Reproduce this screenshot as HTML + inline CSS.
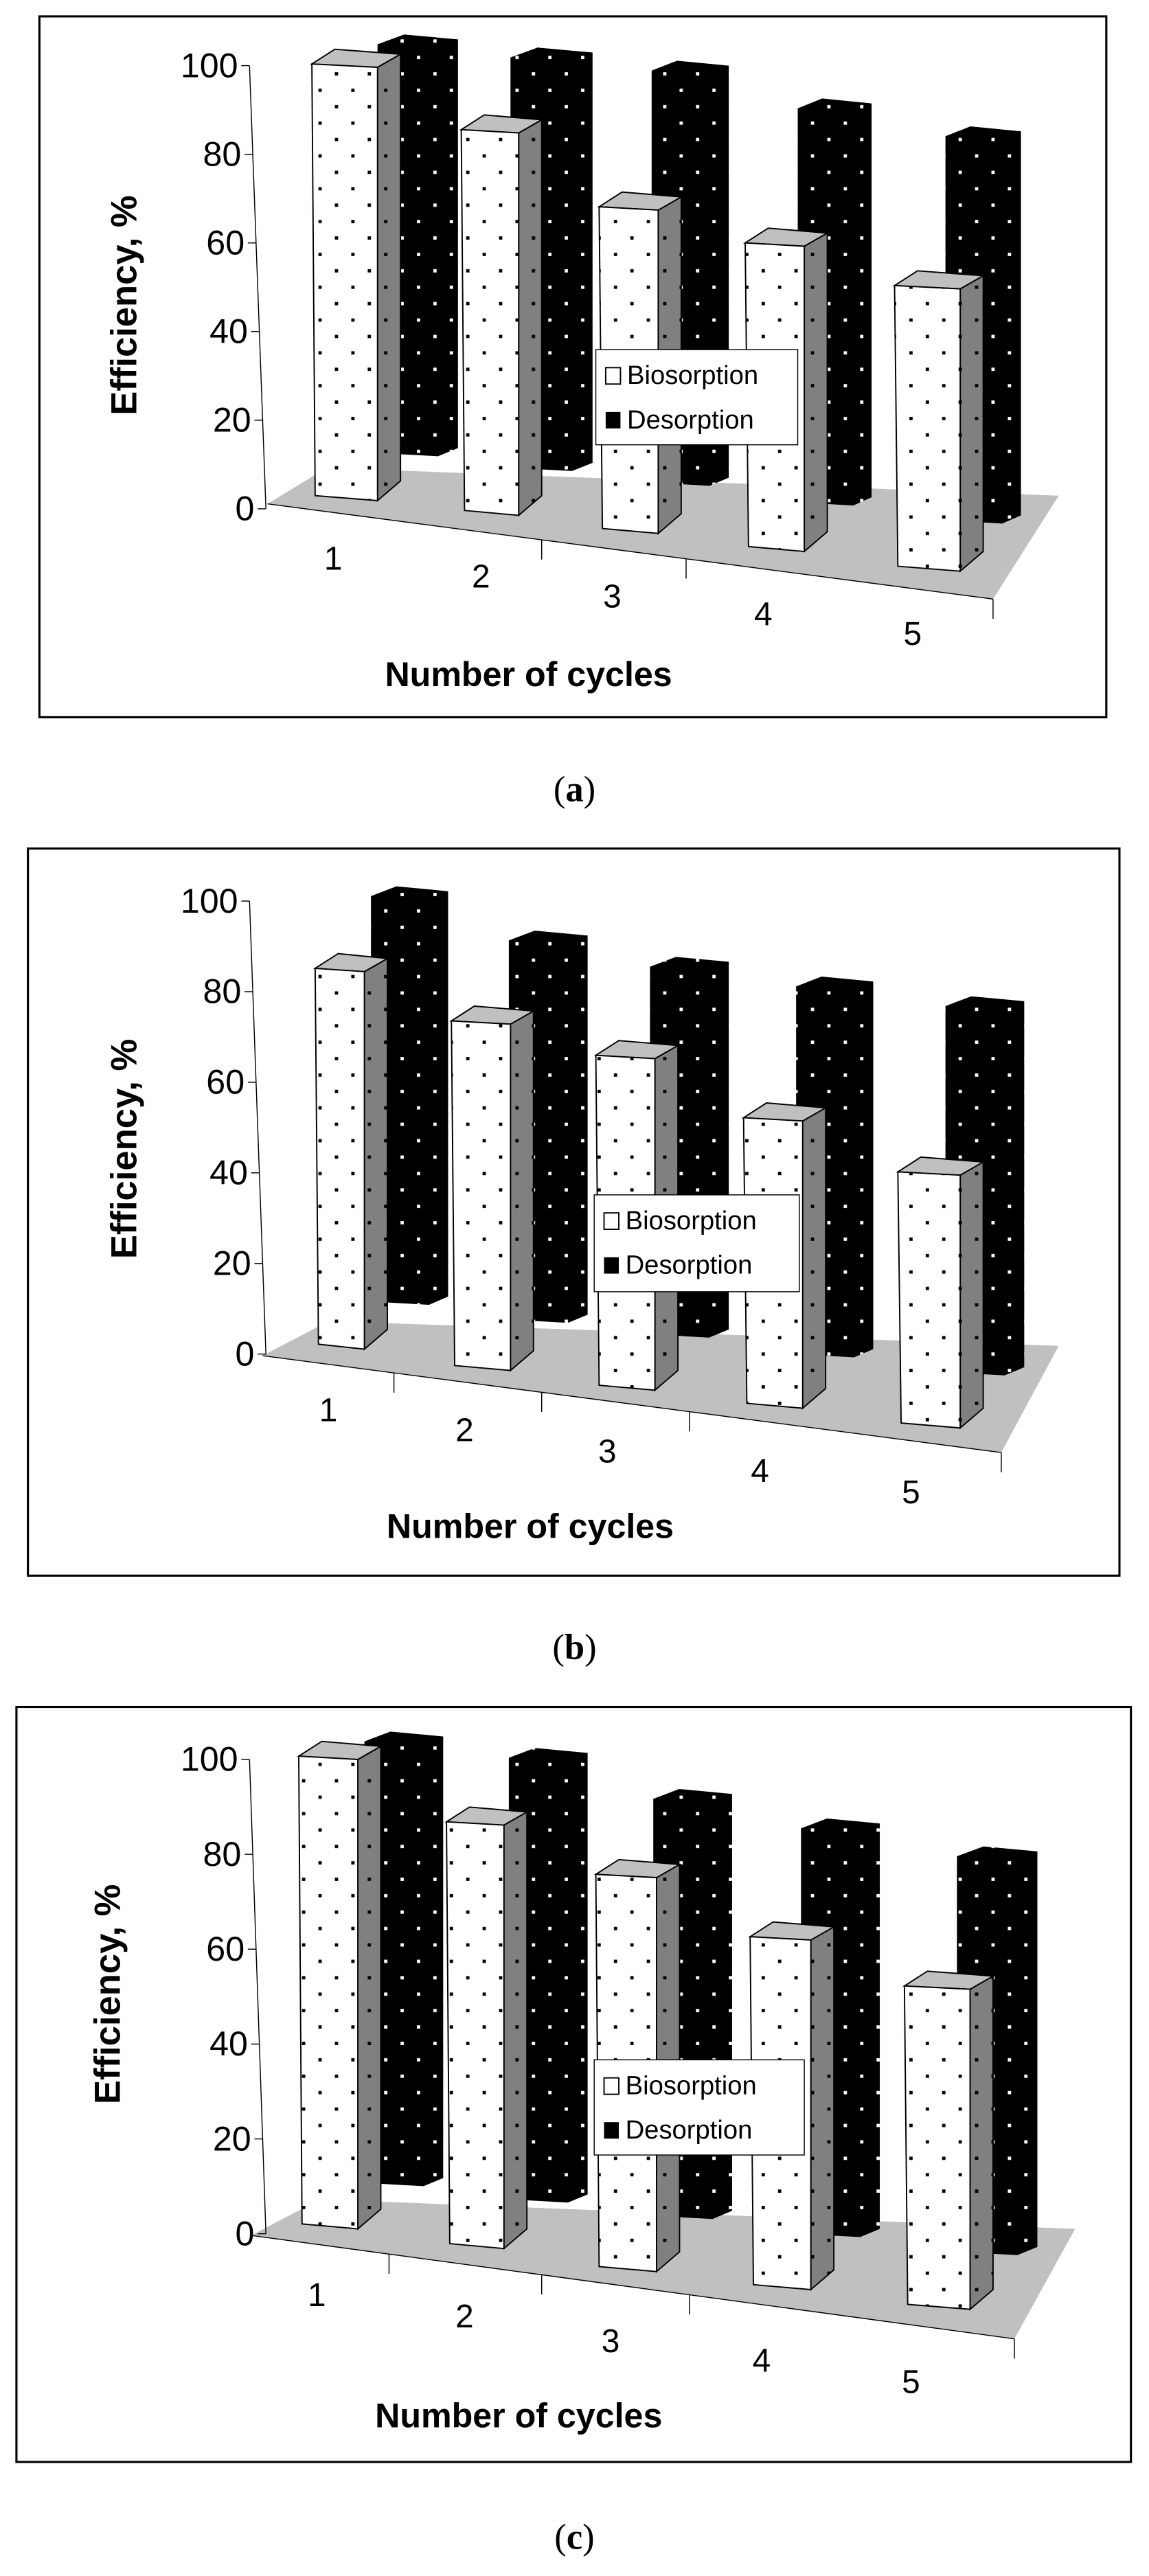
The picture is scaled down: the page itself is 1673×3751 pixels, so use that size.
<!DOCTYPE html>
<html><head><meta charset="utf-8"><style>html,body{margin:0;padding:0;background:#fff}svg{display:block}</style></head>
<body>
<svg id="s" width="1673" height="3751" viewBox="0 0 700 1569.5" xmlns="http://www.w3.org/2000/svg" font-family="Liberation Sans, Arial, sans-serif">
<defs>
<pattern id="pw" width="20" height="20" patternUnits="userSpaceOnUse"><rect width="20" height="20" fill="#fff"/><rect x="4" y="4" width="2" height="2" fill="#000"/><rect x="14" y="14" width="2" height="2" fill="#000"/></pattern>
<pattern id="pg" width="20" height="20" patternUnits="userSpaceOnUse"><rect width="20" height="20" fill="#808080"/><rect x="4" y="4" width="2" height="2" fill="#000"/><rect x="14" y="14" width="2" height="2" fill="#000"/></pattern>
<pattern id="pb" width="20" height="20" patternUnits="userSpaceOnUse"><rect width="20" height="20" fill="#000"/><rect x="4" y="4" width="2" height="2" fill="#fff"/><rect x="14" y="14" width="2" height="2" fill="#fff"/></pattern>
</defs>
<g id="g"></g>
</svg>
<script>
var P=[
{box:[24,10,650,427],ax:[152,40,310],floor:[[163,307],[199,285],[645,302],[605,365]],
 bio:[[190,230,41,305],[281,316,81,314],[365,401,128,325],[454,490,150,336],[545,585,176,348]],
 des:[[230,279,21,278],[311,361,29,287],[397,444,37,296],[486,531,60,308],[576,622,77,319]],
 leg:[363,213,123,58],lab:[[203,339],[293,350],[373,362],[465,373],[556,385]],xt:[322,411],yt:[75,186],cap:480,cl:"a",ticks:[330,418,605]},
{box:[17,517,665,443],ax:[152,549,825],floor:[[160,826],[200,805],[645,820],[610,885]],
 bio:[[192,222,592,822],[275,311,624,835],[363,399,645,847],[453,489,683,858],[547,585,716,870]],
 des:[[226,273,540,795],[310,358,567,806],[396,444,583,815],[485,532,595,827],[576,624,607,838]],
 leg:[362,728,125,59],lab:[[200,858],[283,870],[370,883],[463,895],[555,908]],xt:[323,930],yt:[75,700],cap:1003,cl:"b",ticks:[240,330,420,610]},
{box:[10,1040,679,460],ax:[152,1072,1361],floor:[[153,1362],[195,1340],[655,1358],[618,1425]],
 bio:[[182,218,1072,1358],[272,307,1112,1370],[363,400,1144,1384],[457,494,1182,1395],[551,591,1212,1407]],
 des:[[222,270,1055,1332],[310,358,1065,1342],[398,446,1090,1352],[488,536,1108,1363],[583,632,1125,1374]],
 leg:[362,1255,128,58],lab:[[193,1397],[283,1410],[372,1425],[464,1437],[555,1450]],xt:[316,1472],yt:[65,1215],cap:1545,cl:"c",ticks:[237,330,420,618]}
];
var h='';
function pts(a){return a.map(function(p){return p[0].toFixed(1)+','+p[1].toFixed(1)}).join(' ')}
P.forEach(function(c){
 var b=c.box;
 h+='<rect x="'+b[0]+'" y="'+b[1]+'" width="'+b[2]+'" height="'+b[3]+'" fill="#fff" stroke="#000" stroke-width="1.3"/>';
 var f=c.floor;
 h+='<polygon points="'+pts(f)+'" fill="#c0c0c0"/>';
 h+='<line x1="'+f[0][0]+'" y1="'+f[0][1]+'" x2="'+f[3][0]+'" y2="'+f[3][1]+'" stroke="#000" stroke-width="0.6"/>';
 c.ticks.forEach(function(tx){var t=(tx-f[0][0])/(f[3][0]-f[0][0]);var ty=f[0][1]+t*(f[3][1]-f[0][1]);h+='<line x1="'+tx+'" y1="'+ty+'" x2="'+tx+'" y2="'+(ty+12)+'" stroke="#000" stroke-width="0.6"/>';});
 var a=c.ax;
 h+='<line x1="'+a[0]+'" y1="'+a[1]+'" x2="'+(a[0]+10)+'" y2="'+a[2]+'" stroke="#000" stroke-width="0.6"/>';
 for(var i=0;i<=5;i++){var y=a[2]-(a[2]-a[1])*i/5;var x=a[0]+10*(1-i/5);
  h+='<line x1="'+(x-5)+'" y1="'+y+'" x2="'+x+'" y2="'+y+'" stroke="#000" stroke-width="0.6"/>';
  h+='<text x="'+(x-7)+'" y="'+(y+7)+'" font-size="21" text-anchor="end">'+(i*20)+'</text>';}
 c.des.forEach(function(d){var x0=d[0],x1=d[1],t=d[2],bt=d[3],w=x1-x0;
  h+='<polygon points="'+pts([[x0,t+6],[x0+w*0.33,t],[x1,t+3],[x1,bt-5],[x1-w*0.25,bt],[x0,bt-2]])+'" fill="url(#pb)"/>';});
 c.bio.forEach(function(d){var x0=d[0],x1=d[1],t=d[2],bt=d[3],dx=14,dy=8;
  h+='<polygon points="'+pts([[x1,t],[x1+dx,t-dy],[x1+dx,bt-dy-4],[x1,bt]])+'" fill="url(#pg)" stroke="#000" stroke-width="0.8"/>';
  h+='<polygon points="'+pts([[x0,t-2],[x0+dx,t-dy-3],[x1+dx,t-dy],[x1,t]])+'" fill="#c0c0c0" stroke="#000" stroke-width="0.8"/>';
  h+='<polygon points="'+pts([[x0,t-2],[x1,t],[x1,bt],[x0+2,bt-3]])+'" fill="url(#pw)" stroke="#000" stroke-width="0.8"/>';});
 var l=c.leg;
 h+='<rect x="'+l[0]+'" y="'+l[1]+'" width="'+l[2]+'" height="'+l[3]+'" fill="#fff" stroke="#000" stroke-width="0.6"/>';
 h+='<rect x="'+(l[0]+6)+'" y="'+(l[1]+11)+'" width="9" height="10" fill="#fff" stroke="#000" stroke-width="0.8"/>';
 h+='<rect x="'+(l[0]+6)+'" y="'+(l[1]+38)+'" width="9" height="10" fill="#000"/>';
 h+='<text x="'+(l[0]+19)+'" y="'+(l[1]+21)+'" font-size="16">Biosorption</text>';
 h+='<text x="'+(l[0]+19)+'" y="'+(l[1]+48)+'" font-size="16">Desorption</text>';
 c.lab.forEach(function(p,i){h+='<text x="'+p[0]+'" y="'+(p[1]+8)+'" font-size="20" text-anchor="middle">'+(i+1)+'</text>';});
 h+='<text x="'+c.xt[0]+'" y="'+(c.xt[1]+7)+'" font-size="21" font-weight="bold" text-anchor="middle">Number of cycles</text>';
 h+='<text transform="translate('+(c.yt[0]+8)+','+c.yt[1]+') rotate(-90)" font-size="22" font-weight="bold" text-anchor="middle">Efficiency, %</text>';
 h+='<text x="350" y="'+(c.cap+8)+'" font-size="22" text-anchor="middle" font-family="Liberation Serif, serif">(<tspan font-weight="bold">'+c.cl+'</tspan>)</text>';
});
document.getElementById('g').innerHTML=h;
</script>
</body></html>
